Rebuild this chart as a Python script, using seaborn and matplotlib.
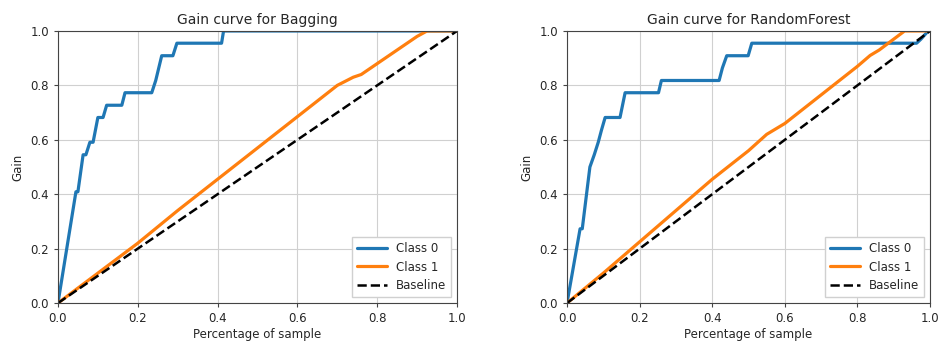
import pandas as pd
import seaborn as sns
import matplotlib
matplotlib.use("Agg")
import matplotlib.pyplot as plt

# Bagging - class 0 (gain curve vertices)
bag_c0_x = [0.0, 0.045, 0.050, 0.063, 0.070, 0.080, 0.088, 0.100, 0.113, 0.122, 0.160, 0.168,
            0.235, 0.245, 0.260, 0.288, 0.298, 0.410, 0.415, 1.0]
bag_c0_y = [0.0, 0.409, 0.409, 0.545, 0.545, 0.591, 0.591, 0.682, 0.682, 0.727, 0.727, 0.773,
            0.773, 0.818, 0.909, 0.909, 0.955, 0.955, 1.0, 1.0]
# Bagging - class 1
bag_c1_x = [0.0, 0.10, 0.20, 0.30, 0.40, 0.50, 0.60, 0.70, 0.74, 0.76, 0.80, 0.86, 0.90, 0.925, 1.0]
bag_c1_y = [0.0, 0.11, 0.22, 0.34, 0.455, 0.57, 0.685, 0.80, 0.83, 0.84, 0.88, 0.94, 0.98, 1.0, 1.0]

# RandomForest - class 0
rf_c0_x = [0.0, 0.036, 0.042, 0.063, 0.075, 0.086, 0.095, 0.105, 0.146, 0.160, 0.252, 0.260,
           0.419, 0.428, 0.440, 0.499, 0.509, 0.963, 0.975, 0.995, 1.0]
rf_c0_y = [0.0, 0.273, 0.273, 0.500, 0.545, 0.591, 0.636, 0.682, 0.682, 0.773, 0.773, 0.818,
           0.818, 0.864, 0.909, 0.909, 0.955, 0.955, 0.97, 1.0, 1.0]
# RandomForest - class 1
rf_c1_x = [0.0, 0.10, 0.20, 0.30, 0.40, 0.50, 0.55, 0.60, 0.70, 0.80, 0.835, 0.86, 0.90, 0.93, 1.0]
rf_c1_y = [0.0, 0.11, 0.225, 0.34, 0.455, 0.56, 0.62, 0.66, 0.765, 0.87, 0.91, 0.93, 0.97, 1.0, 1.0]

baseline = [0.0, 1.0]

models = ["Bagging", "RandomForest"]
curves = {
    "Bagging": (bag_c0_x, bag_c0_y, bag_c1_x, bag_c1_y),
    "RandomForest": (rf_c0_x, rf_c0_y, rf_c1_x, rf_c1_y),
}

sns.set_style("ticks", {"axes.grid": True, "grid.color": "#d0d0d0", "axes.edgecolor": "#444444"})
plt.rcParams["font.family"] = ["DejaVu Sans"]

fig = plt.figure(figsize=(9.38, 3.44), dpi=100)
positions = [[0.0618, 0.119, 0.4254, 0.791], [0.6045, 0.119, 0.387, 0.791]]

for name, pos in zip(models, positions):
    ax = fig.add_axes(pos)
    c0x, c0y, c1x, c1y = curves[name]
    sns.lineplot(x=c0x, y=c0y, ax=ax, color="#1f77b4", lw=2.3, label="Class 0",
                 estimator=None, sort=False)
    sns.lineplot(x=c1x, y=c1y, ax=ax, color="#ff7f0e", lw=2.3, label="Class 1",
                 estimator=None, sort=False)
    sns.lineplot(x=baseline, y=baseline, ax=ax, color="black", lw=1.8, ls="--",
                 label="Baseline", estimator=None, sort=False)
    ax.set_xlim(0, 1)
    ax.set_ylim(0, 1)
    ax.set_xticks([0, 0.2, 0.4, 0.6, 0.8, 1.0])
    ax.set_yticks([0, 0.2, 0.4, 0.6, 0.8, 1.0])
    ax.tick_params(labelsize=8.5, length=3, color="#444444")
    ax.set_title(f"Gain curve for {name}", fontsize=10, pad=5)
    ax.set_xlabel("Percentage of sample", fontsize=8.5, labelpad=2)
    ax.set_ylabel("Gain", fontsize=8.5)
    ax.grid(True, color="#d0d0d0", lw=0.8)
    ax.legend(loc="lower right", fontsize=8.5, frameon=True, framealpha=1,
              edgecolor="#d0d0d0", fancybox=False, handlelength=2.5)

fig.savefig("out.png", dpi=100)
